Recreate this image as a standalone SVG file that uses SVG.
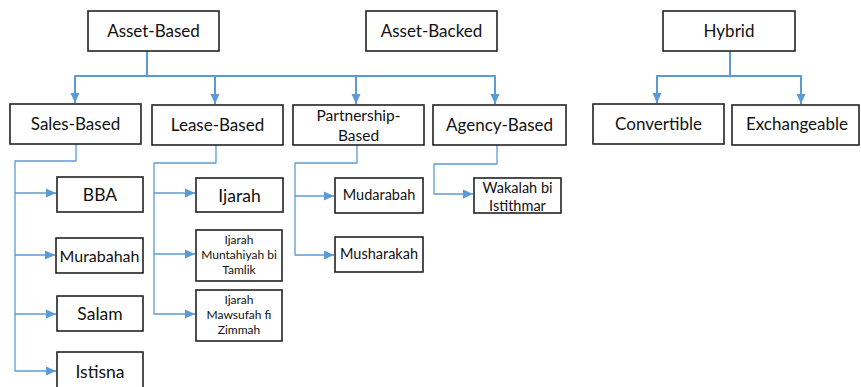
<svg xmlns="http://www.w3.org/2000/svg" width="861" height="387" viewBox="0 0 861 387">
<style>
.box{fill:#fff;stroke:#222;stroke-width:1.6}
.t{font-family:Lato,"Liberation Sans",sans-serif;fill:#111;text-anchor:middle;dominant-baseline:central}
.c{fill:none;stroke:#5B9BD5;stroke-linejoin:round}
.c1{stroke-width:2}
.c2{stroke-width:1.3}
</style>
<defs>
<marker id="ah" markerUnits="userSpaceOnUse" markerWidth="12" markerHeight="12" viewBox="0 0 12 12" refX="11" refY="6" orient="auto">
<path d="M1,1.5 L11,6 L1,10.5 Z" fill="#5B9BD5"/>
</marker>
</defs>
<g id="connectors">
<path class="c c1" d="M147,51 V76 H75 V103" marker-end="url(#ah)"/>
<path class="c c1" d="M147,76 H495 V104" marker-end="url(#ah)"/>
<path class="c c1" d="M215,76 V104" marker-end="url(#ah)"/>
<path class="c c1" d="M356,76 V104" marker-end="url(#ah)"/>
<path class="c c1" d="M730,51 V76 H657 V103" marker-end="url(#ah)"/>
<path class="c c1" d="M730,76 H801 V104" marker-end="url(#ah)"/>
<path class="c c2" d="M76,144 V161 H15 V371 H56" marker-end="url(#ah)"/>
<path class="c c2" d="M15,193 H56" marker-end="url(#ah)"/>
<path class="c c2" d="M15,255 H55" marker-end="url(#ah)"/>
<path class="c c2" d="M15,314 H56" marker-end="url(#ah)"/>
<path class="c c2" d="M216,145 V163 H154 V314 H195" marker-end="url(#ah)"/>
<path class="c c2" d="M154,193 H195" marker-end="url(#ah)"/>
<path class="c c2" d="M154,254 H195" marker-end="url(#ah)"/>
<path class="c c2" d="M357,145 V163 H295 V255 H334" marker-end="url(#ah)"/>
<path class="c c2" d="M295,196 H334" marker-end="url(#ah)"/>
<path class="c c2" d="M497,145 V164 H434 V194 H473" marker-end="url(#ah)"/>
</g>
<g id="asset-based"><rect class="box" x="88" y="11" width="131" height="40"/><text class="t" x="153.5" y="30" font-size="17">Asset-Based</text></g>
<g id="asset-backed"><rect class="box" x="366" y="11" width="131" height="40"/><text class="t" x="431.5" y="30" font-size="17">Asset-Backed</text></g>
<g id="hybrid"><rect class="box" x="663" y="11" width="132" height="40"/><text class="t" x="729" y="30" font-size="17">Hybrid</text></g>
<g id="sales-based"><rect class="box" x="10" y="104" width="131" height="40"/><text class="t" x="75.5" y="123" font-size="17">Sales-Based</text></g>
<g id="lease-based"><rect class="box" x="152" y="105" width="131" height="40"/><text class="t" x="217.5" y="124" font-size="17">Lease-Based</text></g>
<g id="partnership-based"><rect class="box" x="293" y="105" width="131" height="40"/><text class="t" x="358.5" y="115" font-size="15.5">Partnership-</text><text class="t" x="358.5" y="135" font-size="15.5">Based</text></g>
<g id="agency-based"><rect class="box" x="433" y="105" width="133" height="40"/><text class="t" x="499.5" y="124" font-size="17">Agency-Based</text></g>
<g id="convertible"><rect class="box" x="593" y="104" width="131" height="40"/><text class="t" x="658.5" y="123" font-size="17">Convertible</text></g>
<g id="exchangeable"><rect class="box" x="732" y="105" width="127" height="40"/><text class="t" x="797" y="123" font-size="17">Exchangeable</text></g>
<g id="bba"><rect class="box" x="57" y="177" width="86" height="35"/><text class="t" x="100" y="194.5" font-size="17.5">BBA</text></g>
<g id="murabahah"><rect class="box" x="56" y="238" width="87" height="35"/><text class="t" x="99.5" y="255.5" font-size="16">Murabahah</text></g>
<g id="salam"><rect class="box" x="57" y="296" width="86" height="35"/><text class="t" x="100" y="313.5" font-size="17.5">Salam</text></g>
<g id="istisna"><rect class="box" x="57" y="352" width="86" height="40"/><text class="t" x="100" y="371" font-size="17.5">Istisna</text></g>
<g id="ijarah"><rect class="box" x="196" y="178" width="87" height="34"/><text class="t" x="239.5" y="195" font-size="17.5">Ijarah</text></g>
<g id="ijarah-mbt"><rect class="box" x="196" y="230" width="86" height="51"/><text class="t" x="239" y="239" font-size="12">Ijarah</text><text class="t" x="239" y="254.5" font-size="12">Muntahiyah bi</text><text class="t" x="239" y="269.5" font-size="12">Tamlik</text></g>
<g id="ijarah-mfz"><rect class="box" x="196" y="290" width="86" height="51"/><text class="t" x="239" y="299" font-size="12">Ijarah</text><text class="t" x="239" y="314" font-size="12">Mawsufah fi</text><text class="t" x="239" y="329" font-size="12">Zimmah</text></g>
<g id="mudarabah"><rect class="box" x="335" y="178" width="88" height="35"/><text class="t" x="379" y="194.5" font-size="14.5">Mudarabah</text></g>
<g id="musharakah"><rect class="box" x="335" y="237" width="88" height="35"/><text class="t" x="379" y="253.5" font-size="14.5">Musharakah</text></g>
<g id="wakalah"><rect class="box" x="474" y="178" width="87" height="35"/><text class="t" x="517.5" y="187" font-size="14.5">Wakalah bi</text><text class="t" x="517.5" y="205" font-size="14.5">Istithmar</text></g>
</svg>
